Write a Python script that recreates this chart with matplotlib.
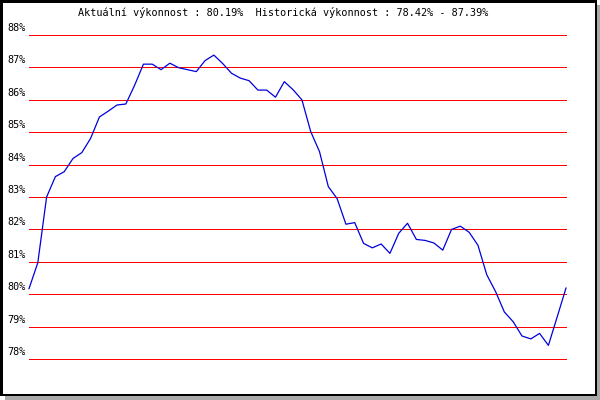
import matplotlib
matplotlib.use("Agg")
import matplotlib.pyplot as plt
from matplotlib.patches import Rectangle
from matplotlib.transforms import offset_copy

# hodnoty vykonnosti (%)
values = [80.17, 80.97, 83.00, 83.63, 83.78, 84.19, 84.37, 84.81, 85.47, 85.65,
          85.84, 85.87, 86.45, 87.10, 87.10, 86.93, 87.13, 86.99, 86.93, 86.87,
          87.21, 87.38, 87.12, 86.82, 86.67, 86.59, 86.30, 86.30, 86.08, 86.56,
          86.31, 86.00, 85.02, 84.40, 83.32, 82.95, 82.16, 82.21, 81.57, 81.43,
          81.55, 81.26, 81.88, 82.19, 81.69, 81.66, 81.58, 81.36, 82.00, 82.10,
          81.91, 81.51, 80.60, 80.08, 79.45, 79.15, 78.71, 78.62, 78.79, 78.42,
          79.30, 80.19]
levels = [78, 79, 80, 81, 82, 83, 84, 85, 86, 87, 88]
level_labels = [f"{v}%" for v in levels]
title = "Aktuální výkonnost : 80.19%  Historická výkonnost : 78.42% - 87.39%"

W, H = 600, 400
fig = plt.figure(figsize=(6, 4), dpi=100)
fig.patch.set_facecolor("white")

# ramecek se stinem
fig.add_artist(Rectangle((5 / W, 0), 1 - 5 / W, 1 - 5 / H, transform=fig.transFigure,
                         facecolor="#aaaaaa", edgecolor="none", zorder=0))
fig.add_artist(Rectangle((0, 4 / H), 597 / W, 1 - 4 / H, transform=fig.transFigure,
                         facecolor="black", edgecolor="none", zorder=0))
fig.add_artist(Rectangle((3 / W, 6 / H), 592 / W, 1 - 9 / H, transform=fig.transFigure,
                         facecolor="white", edgecolor="none", zorder=0))

# osa: 88 % na y=35 px, 78 % na y=359 px
x0, x1 = 29, 566
y88, y78 = 35, 359
ax = fig.add_axes([x0 / W, 1 - y78 / H, (x1 - x0) / W, (y78 - y88) / H])
ax.set_facecolor("none")
ax.set_xlim(0, len(values) - 1)
ax.set_ylim(78, 88)
ax.axis("off")

for v in levels:
    ax.axhline(v, color="#ff0000", linewidth=0.55, antialiased=False, zorder=1, clip_on=False)

ax.plot(range(len(values)), values, color="#0000dd", linewidth=0.9, zorder=2, clip_on=False)

fnt = dict(family="DejaVu Sans Mono", size=7.3)
lab_tr = offset_copy(ax.get_yaxis_transform(), fig=fig, x=-3, y=2, units="dots")
for v, lab in zip(levels, level_labels):
    ax.text(0, v, lab, transform=lab_tr, ha="right", va="bottom", **fnt)

fig.text(283 / W, 1 - 13 / H, title, ha="center", va="center", **fnt)

fig.savefig("out.png", dpi=100)
